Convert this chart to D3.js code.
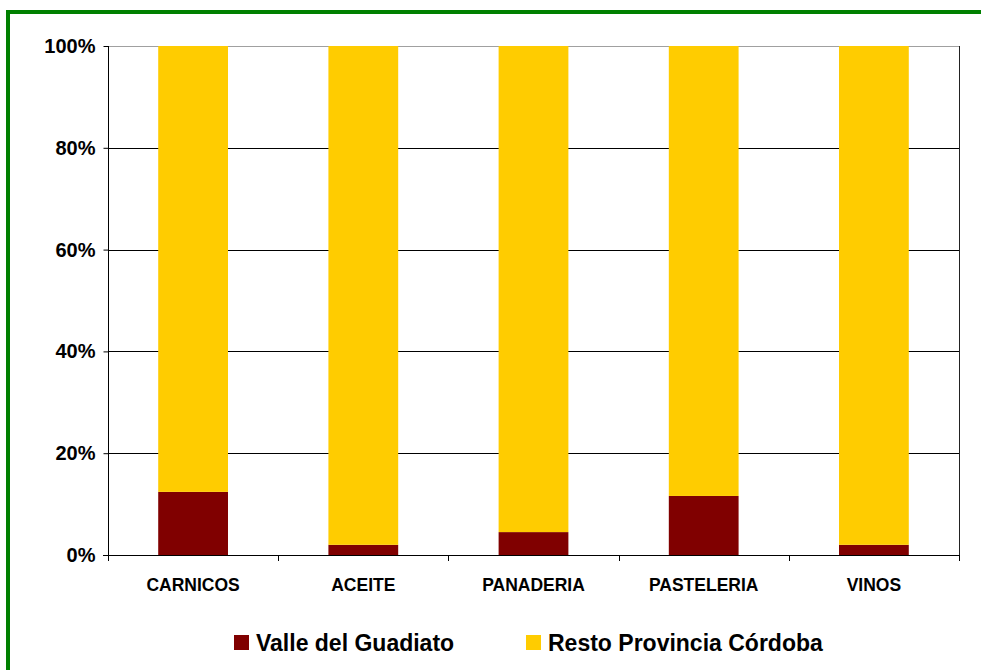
<!DOCTYPE html>
<html>
<head>
<meta charset="utf-8">
<script src="https://cdn.jsdelivr.net/npm/d3@7"></script>
<style>
  body { margin: 0; background: #fff; }
  svg { display: block; font-family: Arial, "Liberation Sans", sans-serif; font-weight: bold; }
</style>
</head>
<body>
<svg id="chart" width="981" height="670"></svg>
<script>
// categories and shares (percent of total)
var categories = ["CARNICOS", "ACEITE", "PANADERIA", "PASTELERIA", "VINOS"];
var valleValues = [12.4, 2.0, 4.5, 11.6, 2.0];
var restoValues = [87.6, 98.0, 95.5, 88.4, 98.0];
var seriesNames = ["Valle del Guadiato", "Resto Provincia Córdoba"];
var seriesColors = ["#800000", "#ffcc00"];
var yTicks = [0, 20, 40, 60, 80, 100];

var svg = d3.select("#chart");

// green frame round the whole thing (runs off right & bottom edge)
svg.append("rect")
    .attr("x", 8).attr("y", 12)
    .attr("width", 1000).attr("height", 700)
    .attr("fill", "none")
    .attr("stroke", "#008000")
    .attr("stroke-width", 4);

var plotL = 108, plotR = 959, plotT = 46, plotB = 555;

var x = d3.scaleBand().domain(categories).range([plotL, plotR]).paddingInner(0.59).paddingOuter(0.295);
var y = d3.scaleLinear().domain([0, 100]).range([plotB, plotT]);

/* gridlines */
svg.append("g").selectAll("line")
    .data(yTicks.filter(function (d) { return d > 0 && d < 100; }))
    .enter().append("line")
    .attr("x1", plotL).attr("x2", plotR)
    .attr("y1", function (d) { return Math.round(y(d)) + 0.5; })
    .attr("y2", function (d) { return Math.round(y(d)) + 0.5; })
    .attr("stroke", "#000").attr("stroke-width", 1);

// plot area border: top grey, right dark
svg.append("line").attr("x1", plotL).attr("x2", plotR + 0.5)
    .attr("y1", plotT + 0.5).attr("y2", plotT + 0.5)
    .attr("stroke", "#a0a0a0");
svg.append("line").attr("x1", plotR + 0.5).attr("x2", plotR + 0.5)
    .attr("y1", plotT).attr("y2", plotB)
    .attr("stroke", "#222");

// stacked data
var rows = categories.map(function (c, i) {
    return { cat: c, valle: valleValues[i], resto: restoValues[i] };
});
var stack = d3.stack().keys(["valle", "resto"]);
var layers = stack(rows);

svg.append("g").selectAll("g")
    .data(layers)
    .enter().append("g")
    .attr("fill", function (d, i) { return seriesColors[i]; })
    .selectAll("rect")
    .data(function (d) { return d; })
    .enter().append("rect")
    .attr("x", function (d) { return x(d.data.cat); })
    .attr("width", x.bandwidth())
    .attr("y", function (d) { return y(d[1]); })
    .attr("height", function (d) { return y(d[0]) - y(d[1]); });

/* y axis */
var yAxis = svg.append("g")
    .attr("transform", "translate(" + (plotL + 0.5) + ",0)")
    .call(d3.axisLeft(y).tickValues(yTicks).tickSize(5).tickPadding(8)
        .tickFormat(function (d) { return d + "%"; }));
yAxis.select(".domain").attr("stroke", "#000").attr("d", "M0," + plotT + "V" + plotB);
yAxis.selectAll(".tick line").attr("stroke", "#000");
yAxis.selectAll("text").attr("font-size", 20).attr("font-weight", "bold")
    .attr("font-family", "Arial, 'Liberation Sans', sans-serif").attr("fill", "#000");

// x axis: ticks at category boundaries
var bounds = d3.range(categories.length + 1).map(function (i) {
    return plotL + i * (plotR - plotL) / categories.length;
});
var xAxis = svg.append("g");
xAxis.append("line")
    .attr("x1", plotL - 5).attr("x2", plotR + 0.5)
    .attr("y1", plotB + 0.5).attr("y2", plotB + 0.5)
    .attr("stroke", "#000");
xAxis.selectAll(".tick")
    .data(bounds)
    .enter().append("line")
    .attr("x1", function (d) { return Math.round(d) + 0.5; })
    .attr("x2", function (d) { return Math.round(d) + 0.5; })
    .attr("y1", plotB).attr("y2", plotB + 6)
    .attr("stroke", "#000");
xAxis.selectAll("text")
    .data(categories)
    .enter().append("text")
    .attr("x", function (d) { return x(d) + x.bandwidth() / 2; })
    .attr("y", 591)
    .attr("text-anchor", "middle")
    .attr("font-size", 17.5)
    .attr("fill", "#000")
    .text(function (d) { return d; });

// legend
var legendX = [234, 526];
var legend = svg.append("g").selectAll("g")
    .data(seriesNames)
    .enter().append("g")
    .attr("transform", function (d, i) { return "translate(" + legendX[i] + ",635)"; });
legend.append("rect")
    .attr("width", 15).attr("height", 15)
    .attr("fill", function (d, i) { return seriesColors[i]; });
legend.append("text")
    .attr("x", 22).attr("y", 16)
    .attr("font-size", 23)
    .attr("fill", "#000")
    .text(function (d) { return d; });
</script>
</body>
</html>
